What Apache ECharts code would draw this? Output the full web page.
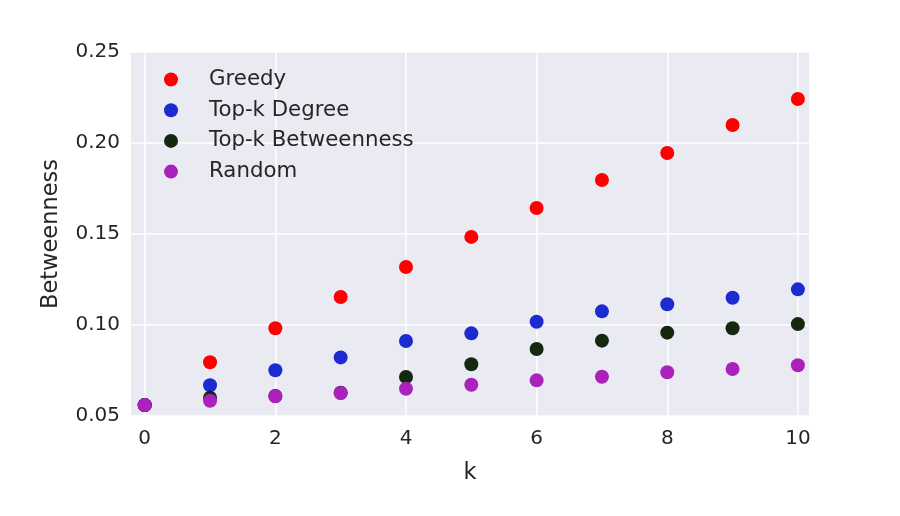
<!DOCTYPE html>
<html>
<head>
<meta charset="utf-8">
<script src="https://cdn.jsdelivr.net/npm/echarts@6/dist/echarts.min.js"></script>
<style>
  html, body { margin: 0; padding: 0; background: #fff; }
  #chart { width: 900px; height: 516px; }
</style>
</head>
<body>
<div id="chart"></div>
<script>
const k = [0, 1, 2, 3, 4, 5, 6, 7, 8, 9, 10]
const greedy = [0.056, 0.0795, 0.0982, 0.1154, 0.1319, 0.1484, 0.1643, 0.1797, 0.1945, 0.2099, 0.2242]
const topDegree = [0.056, 0.0669, 0.0751, 0.0822, 0.0912, 0.0954, 0.1018, 0.1075, 0.1114, 0.115, 0.1196]
const topBetweenness = [0.056, 0.0600, 0.0610, 0.0628, 0.0714, 0.0784, 0.0868, 0.0914, 0.0958, 0.0982, 0.1005]
const random = [0.056, 0.0584, 0.0608, 0.0626, 0.065, 0.0672, 0.0696, 0.0716, 0.074, 0.0758, 0.0779]
const xTicks = [0, 2, 4, 6, 8, 10]

const textColor = '#262626'
const font = 'DejaVu Sans'

const pairs = (ys) => k.map((x, i) => [x, ys[i]])

const chart = echarts.init(document.getElementById('chart'))
chart.setOption({
  animation: false,
  textStyle: { fontFamily: font },
  grid: {
    left: 131,
    right: 91,
    top: 52,
    bottom: 100,
    show: true,
    backgroundColor: '#EAEAF2',
    borderWidth: 0
  },
  legend: {
    orient: 'vertical',
    left: 164,
    top: 69,
    padding: 0,
    itemWidth: 14,
    itemHeight: 14,
    itemGap: 9.7,
    icon: 'circle',
    textStyle: {
      fontSize: 21.3,
      color: textColor,
      fontFamily: font,
      lineHeight: 21,
      padding: [0, 0, 0, 26]
    },
    data: ['Greedy', 'Top-k Degree', 'Top-k Betweenness', 'Random']
  },
  xAxis: {
    type: 'value',
    min: -0.21,
    max: 10.17,
    name: 'k',
    nameLocation: 'middle',
    nameGap: 46,
    nameTextStyle: { fontSize: 22.5, color: textColor, fontFamily: font },
    axisLine: { show: false },
    axisTick: { show: false },
    splitLine: { show: false },
    axisLabel: {
      customValues: xTicks,
      fontSize: 20,
      color: textColor,
      fontFamily: font,
      margin: 13
    }
  },
  yAxis: {
    type: 'value',
    min: 0.05,
    max: 0.25,
    interval: 0.05,
    name: 'Betweenness',
    nameLocation: 'middle',
    nameGap: 68,
    nameTextStyle: { fontSize: 22.5, color: textColor, fontFamily: font },
    axisLine: { show: false },
    axisTick: { show: false },
    splitLine: { show: true, lineStyle: { color: '#ffffff', width: 1.5 } },
    axisLabel: {
      fontSize: 20,
      color: textColor,
      fontFamily: font,
      margin: 11,
      formatter: (v) => v.toFixed(2)
    }
  },
  series: [
    {
      name: 'grid',
      type: 'scatter',
      data: [],
      z: 1,
      silent: true,
      markLine: {
        silent: true,
        z: 1,
        symbol: 'none',
        label: { show: false },
        lineStyle: { color: '#ffffff', width: 1.5, type: 'solid' },
        data: xTicks.map((v) => ({ xAxis: v }))
      }
    },
    {
      name: 'Greedy',
      type: 'scatter',
      symbolSize: 14,
      itemStyle: { color: '#ff0000', opacity: 1 },
      data: pairs(greedy)
    },
    {
      name: 'Top-k Degree',
      type: 'scatter',
      symbolSize: 14,
      itemStyle: { color: '#1c2bd0', opacity: 1 },
      data: pairs(topDegree)
    },
    {
      name: 'Top-k Betweenness',
      type: 'scatter',
      symbolSize: 14,
      itemStyle: { color: '#16270f', opacity: 1 },
      data: pairs(topBetweenness)
    },
    {
      name: 'Random',
      type: 'scatter',
      symbolSize: 14,
      itemStyle: { color: '#aa22bb', opacity: 1 },
      data: pairs(random)
    }
  ]
})
</script>
</body>
</html>
